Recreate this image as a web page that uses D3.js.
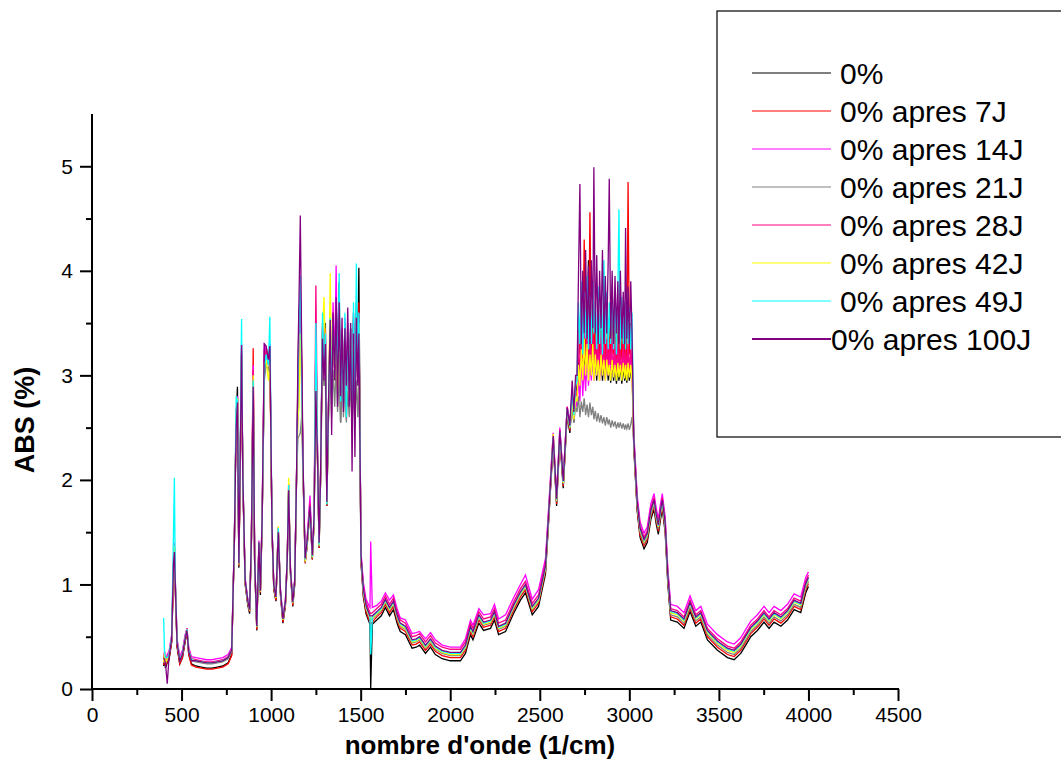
<!DOCTYPE html>
<html>
<head>
<meta charset="utf-8">
<script src="https://cdn.jsdelivr.net/npm/d3@7/dist/d3.min.js"></script>
<style>
  html, body { margin: 0; padding: 0; background: #ffffff; }
  svg { display: block; font-family: Arial, "Liberation Sans", sans-serif; }
</style>
</head>
<body>
<svg id="chart" width="1061" height="784"></svg>
<script>
// Wavenumber grid (1/cm) shared by every spectrum
const wavenumber = [
  400, 405, 410, 420, 430, 445, 455, 460, 465, 475, 490, 505, 520, 530, 540, 555,
  580, 610, 640, 670, 700, 730, 760, 780,
  795, 805, 812, 820, 828, 835, 842, 855, 870, 880, 890, 900, 908, 920, 932, 940, 950, 962, 972, 985, 993, 1005, 1015, 1027, 1040, 1052, 1066, 1080, 1090, 1098, 1108, 1121, 1132, 1142,
  1150, 1156, 1163, 1170, 1178, 1190, 1200, 1217, 1230, 1240, 1250, 1260, 1268, 1276, 1287, 1295, 1303, 1311, 1320, 1330, 1338, 1346, 1355, 1363, 1371, 1380, 1388, 1396, 1404, 1412, 1420, 1428, 1436, 1444, 1452, 1460, 1468, 1476, 1484, 1490,
  1502, 1515, 1530, 1545, 1552, 1556, 1565, 1590, 1615, 1638, 1661, 1683, 1705, 1721, 1750, 1787, 1810, 1829, 1862, 1890, 1917, 1955, 2000, 2057, 2085, 2113, 2127, 2160, 2186, 2225, 2247, 2270, 2309, 2353, 2392, 2420, 2458, 2493, 2532,
  2550, 2575, 2594, 2612, 2631, 2653, 2668, 2681, 2690, 2700,
  2708, 2716, 2724, 2732, 2740, 2748, 2756, 2764, 2772, 2780, 2788, 2796, 2802, 2810, 2818, 2826, 2834, 2842, 2850, 2858, 2866, 2874, 2882, 2888, 2896, 2904, 2912, 2920, 2928, 2936, 2942, 2950, 2958, 2966, 2974, 2979, 2986, 2993, 3000, 3008, 3015,
  3025, 3044, 3060, 3082, 3100, 3120, 3138, 3150, 3162, 3174, 3184, 3200, 3215, 3231, 3268, 3305, 3339, 3371, 3399, 3436, 3492, 3548, 3585, 3622, 3650, 3678, 3715, 3752, 3780, 3808, 3846, 3883, 3920, 3957, 3985, 4000
];

// Absorbance of each sample (same order as the wavenumber grid)
const abs0 = [
  0.22, 0.30, 0.20, 0.25, 0.28, 0.45, 1.10, 1.30, 0.95, 0.40, 0.24, 0.30, 0.45, 0.55, 0.33, 0.24,
  0.22, 0.21, 0.20, 0.20, 0.21, 0.22, 0.25, 0.33,
  1.40, 2.60, 2.89, 1.16, 2.20, 3.20, 2.00, 1.00, 0.80, 0.72, 1.40, 3.00, 1.20, 0.56, 1.36, 0.90, 1.60, 3.00, 3.25, 3.10, 3.28, 1.50, 0.95, 0.84, 1.50, 0.90, 0.63, 0.80, 1.20, 1.90, 1.10, 0.79, 1.00, 2.00,
  2.80, 3.40, 3.70, 3.10, 2.10, 1.22, 1.35, 1.72, 1.24, 1.60, 3.30, 2.10, 1.35, 2.00, 3.40, 3.10, 3.50, 1.75, 2.60, 3.50, 2.90, 3.60, 3.00, 3.70, 3.20, 3.89, 2.55, 3.40, 2.90, 3.50, 2.80, 3.30, 2.75, 3.45, 2.85, 3.60, 2.60, 3.70, 3.20, 4.03,
  1.20, 0.88, 0.72, 0.65, 0.62, 0.00, 0.62, 0.66, 0.70, 0.78, 0.70, 0.76, 0.62, 0.55, 0.52, 0.39, 0.40, 0.42, 0.34, 0.40, 0.33, 0.29, 0.27, 0.27, 0.34, 0.52, 0.47, 0.63, 0.56, 0.58, 0.66, 0.52, 0.55, 0.72, 0.85, 0.92, 0.71, 0.79, 1.10,
  1.62, 2.35, 1.75, 2.40, 1.92, 2.62, 2.45, 2.80, 2.55, 2.90,
  2.85, 3.20, 2.95, 3.30, 3.00, 3.25, 2.95, 3.30, 4.10, 3.20, 3.00, 3.25, 2.98, 3.20, 2.95, 3.25, 3.00, 3.20, 2.95, 3.15, 2.97, 3.20, 2.95, 3.15, 2.93, 3.15, 2.95, 3.10, 2.92, 3.10, 2.95, 3.10, 2.92, 3.08, 2.95, 3.05, 2.93, 3.10, 2.95, 3.05, 3.10,
  2.30, 1.70, 1.45, 1.34, 1.40, 1.62, 1.72, 1.58, 1.48, 1.62, 1.72, 1.50, 1.00, 0.66, 0.64, 0.58, 0.74, 0.60, 0.64, 0.47, 0.37, 0.30, 0.28, 0.34, 0.42, 0.50, 0.56, 0.64, 0.58, 0.64, 0.60, 0.66, 0.76, 0.73, 0.92, 0.98
];
const abs7 = [
  0.23, 0.32, 0.22, 0.26, 0.29, 0.46, 1.15, 1.35, 0.98, 0.41, 0.24, 0.30, 0.46, 0.55, 0.33, 0.23,
  0.21, 0.20, 0.19, 0.19, 0.20, 0.21, 0.24, 0.32,
  1.42, 2.62, 2.80, 1.18, 2.22, 3.25, 2.02, 1.02, 0.82, 0.74, 1.42, 3.26, 1.22, 0.57, 1.38, 0.92, 1.62, 3.05, 3.28, 3.12, 3.25, 1.52, 0.96, 0.85, 1.52, 0.92, 0.64, 0.81, 1.22, 1.92, 1.12, 0.80, 1.02, 2.02,
  3.00, 3.60, 3.80, 3.20, 2.10, 1.20, 1.35, 1.72, 1.24, 1.60, 3.40, 2.10, 1.35, 2.00, 3.50, 3.00, 3.45, 1.75, 2.65, 3.40, 2.85, 3.50, 3.05, 3.60, 3.05, 3.70, 2.70, 3.35, 2.85, 3.45, 2.75, 3.35, 2.80, 3.40, 2.90, 3.50, 2.70, 3.60, 3.10, 3.70,
  1.22, 0.90, 0.74, 0.67, 0.64, 0.62, 0.64, 0.69, 0.73, 0.81, 0.73, 0.79, 0.65, 0.58, 0.55, 0.42, 0.43, 0.45, 0.37, 0.43, 0.36, 0.32, 0.30, 0.30, 0.37, 0.55, 0.50, 0.66, 0.59, 0.61, 0.69, 0.55, 0.58, 0.75, 0.88, 0.95, 0.74, 0.82, 1.13,
  1.64, 2.37, 1.77, 2.42, 1.94, 2.64, 2.47, 2.82, 2.57, 2.90,
  2.90, 3.50, 3.20, 3.70, 3.15, 4.30, 3.25, 3.60, 3.10, 4.56, 3.20, 3.65, 3.15, 3.55, 3.20, 3.70, 3.10, 3.60, 3.20, 3.55, 3.15, 3.75, 3.20, 3.55, 3.10, 3.60, 3.20, 3.50, 3.15, 3.60, 3.10, 3.55, 3.15, 3.50, 3.10, 3.55, 3.15, 4.85, 3.20, 3.50, 3.30,
  2.32, 1.72, 1.47, 1.37, 1.43, 1.65, 1.75, 1.61, 1.51, 1.65, 1.75, 1.53, 1.03, 0.69, 0.67, 0.61, 0.77, 0.63, 0.67, 0.50, 0.40, 0.33, 0.31, 0.37, 0.45, 0.53, 0.59, 0.67, 0.61, 0.67, 0.63, 0.69, 0.79, 0.76, 0.95, 1.01
];
const abs14 = [
  0.28, 0.36, 0.27, 0.33, 0.36, 0.52, 1.25, 1.40, 1.05, 0.48, 0.31, 0.37, 0.52, 0.58, 0.40, 0.31,
  0.30, 0.29, 0.28, 0.28, 0.29, 0.30, 0.33, 0.40,
  1.45, 2.65, 2.80, 1.22, 2.25, 3.30, 2.06, 1.06, 0.86, 0.78, 1.45, 3.10, 1.26, 0.62, 1.42, 0.96, 1.66, 3.31, 3.20, 3.15, 3.30, 1.56, 1.00, 0.90, 1.55, 0.96, 0.69, 0.86, 1.26, 1.96, 1.16, 0.84, 1.06, 2.06,
  2.85, 3.10, 3.55, 3.05, 2.15, 1.26, 1.42, 1.85, 1.30, 1.66, 3.40, 2.18, 1.42, 2.06, 3.45, 3.10, 3.35, 1.82, 2.70, 3.60, 3.00, 3.70, 3.10, 4.05, 2.95, 3.50, 2.85, 3.45, 2.75, 3.55, 2.85, 3.50, 2.90, 3.40, 2.80, 3.55, 2.75, 3.60, 3.05, 3.55,
  1.30, 1.02, 0.86, 0.80, 0.78, 1.41, 0.78, 0.80, 0.84, 0.92, 0.85, 0.90, 0.76, 0.68, 0.66, 0.53, 0.54, 0.55, 0.48, 0.54, 0.47, 0.42, 0.40, 0.40, 0.48, 0.66, 0.61, 0.77, 0.71, 0.72, 0.81, 0.67, 0.71, 0.87, 1.00, 1.09, 0.86, 0.95, 1.25,
  1.75, 2.45, 1.85, 2.50, 2.02, 2.70, 2.55, 2.85, 2.62, 2.75,
  2.70, 3.00, 2.75, 3.20, 2.80, 3.10, 2.85, 3.30, 2.90, 3.15, 2.95, 3.25, 2.95, 3.20, 3.00, 3.25, 2.95, 3.20, 3.00, 3.20, 2.95, 3.25, 3.00, 3.20, 2.98, 3.20, 3.00, 3.22, 2.98, 3.20, 3.00, 3.18, 2.98, 3.20, 3.00, 3.18, 2.98, 3.20, 3.00, 3.15, 3.00,
  2.45, 1.85, 1.60, 1.49, 1.55, 1.77, 1.87, 1.73, 1.63, 1.77, 1.87, 1.65, 1.15, 0.81, 0.79, 0.73, 0.89, 0.75, 0.79, 0.62, 0.52, 0.45, 0.43, 0.49, 0.57, 0.65, 0.71, 0.79, 0.73, 0.79, 0.75, 0.81, 0.91, 0.88, 1.07, 1.12
];
const abs21 = [
  0.25, 0.33, 0.24, 0.28, 0.31, 0.48, 1.18, 1.36, 1.00, 0.44, 0.27, 0.33, 0.48, 0.56, 0.36, 0.27,
  0.26, 0.25, 0.24, 0.24, 0.25, 0.26, 0.29, 0.36,
  1.42, 2.62, 2.75, 1.19, 2.22, 3.15, 2.03, 1.03, 0.83, 0.75, 1.43, 2.95, 1.23, 0.59, 1.39, 0.93, 1.63, 2.95, 3.10, 3.05, 3.15, 1.53, 0.98, 0.87, 1.53, 0.93, 0.66, 0.83, 1.23, 1.93, 1.13, 0.82, 1.03, 2.03,
  2.40, 2.42, 2.45, 2.60, 2.05, 1.21, 1.36, 1.72, 1.25, 1.60, 2.80, 2.10, 1.36, 2.00, 3.05, 2.90, 3.00, 1.76, 2.55, 3.00, 2.60, 3.05, 2.70, 3.10, 2.65, 3.00, 2.55, 2.95, 2.60, 2.90, 2.55, 2.85, 2.60, 2.95, 2.50, 2.90, 2.55, 2.95, 2.60, 3.00,
  1.24, 0.93, 0.77, 0.70, 0.67, 0.66, 0.67, 0.71, 0.75, 0.83, 0.75, 0.81, 0.67, 0.60, 0.57, 0.44, 0.45, 0.47, 0.39, 0.45, 0.38, 0.34, 0.32, 0.32, 0.39, 0.57, 0.52, 0.68, 0.61, 0.63, 0.71, 0.57, 0.60, 0.77, 0.90, 0.97, 0.76, 0.84, 1.15,
  1.66, 2.39, 1.79, 2.44, 1.96, 2.66, 2.49, 2.70, 2.55, 2.70,
  2.65, 2.80, 2.60, 2.75, 2.65, 2.78, 2.62, 2.72, 2.60, 2.74, 2.62, 2.70, 2.58, 2.66, 2.56, 2.64, 2.55, 2.62, 2.54, 2.60, 2.52, 2.60, 2.53, 2.58, 2.50, 2.57, 2.51, 2.56, 2.49, 2.55, 2.50, 2.55, 2.49, 2.54, 2.48, 2.53, 2.49, 2.54, 2.48, 2.53, 2.60,
  2.35, 1.75, 1.50, 1.39, 1.45, 1.67, 1.77, 1.63, 1.53, 1.67, 1.77, 1.55, 1.05, 0.71, 0.69, 0.63, 0.79, 0.65, 0.69, 0.52, 0.42, 0.35, 0.33, 0.39, 0.47, 0.55, 0.61, 0.69, 0.63, 0.69, 0.65, 0.71, 0.81, 0.78, 0.97, 1.03
];
const abs28 = [
  0.27, 0.35, 0.26, 0.31, 0.34, 0.50, 1.22, 1.38, 1.03, 0.46, 0.29, 0.35, 0.50, 0.58, 0.38, 0.29,
  0.28, 0.27, 0.26, 0.26, 0.27, 0.28, 0.31, 0.38,
  1.44, 2.64, 2.78, 1.20, 2.24, 3.20, 2.04, 1.04, 0.84, 0.76, 1.44, 3.05, 1.24, 0.60, 1.40, 0.94, 1.64, 3.25, 3.20, 3.10, 3.20, 1.54, 0.99, 0.88, 1.54, 0.94, 0.67, 0.84, 1.24, 1.96, 1.14, 0.83, 1.04, 2.04,
  2.90, 3.50, 3.75, 3.15, 2.12, 1.23, 1.39, 1.78, 1.28, 1.64, 3.86, 2.15, 1.40, 2.04, 3.45, 3.05, 3.40, 1.80, 2.68, 3.50, 2.95, 3.55, 3.05, 3.65, 3.00, 3.55, 2.80, 3.40, 2.80, 3.50, 2.80, 3.40, 2.85, 3.45, 2.85, 3.50, 2.75, 3.55, 3.05, 3.60,
  1.27, 0.98, 0.83, 0.76, 0.73, 0.72, 0.73, 0.77, 0.81, 0.89, 0.81, 0.87, 0.73, 0.66, 0.63, 0.50, 0.51, 0.53, 0.45, 0.51, 0.44, 0.40, 0.38, 0.38, 0.45, 0.63, 0.58, 0.74, 0.67, 0.69, 0.77, 0.63, 0.66, 0.83, 0.96, 1.03, 0.82, 0.90, 1.21,
  1.70, 2.43, 1.83, 2.48, 2.00, 2.70, 2.53, 2.78, 2.60, 2.85,
  2.80, 3.40, 2.95, 3.35, 3.05, 3.40, 3.10, 3.45, 3.05, 3.35, 3.10, 3.40, 3.00, 3.35, 3.10, 3.30, 3.05, 3.40, 3.10, 3.30, 3.00, 3.35, 3.05, 3.30, 3.10, 3.35, 3.05, 3.30, 3.00, 3.30, 3.05, 3.25, 3.00, 3.30, 3.05, 3.25, 3.00, 3.30, 3.05, 3.25, 3.10,
  2.41, 1.81, 1.56, 1.45, 1.51, 1.73, 1.83, 1.69, 1.59, 1.73, 1.83, 1.61, 1.11, 0.77, 0.75, 0.69, 0.85, 0.71, 0.75, 0.58, 0.48, 0.41, 0.39, 0.45, 0.53, 0.61, 0.67, 0.75, 0.69, 0.75, 0.71, 0.77, 0.87, 0.84, 1.03, 1.09
];
const abs42 = [
  0.26, 0.34, 0.25, 0.29, 0.32, 0.49, 1.20, 1.37, 1.01, 0.45, 0.28, 0.34, 0.49, 0.57, 0.37, 0.28,
  0.27, 0.26, 0.25, 0.25, 0.26, 0.27, 0.30, 0.37,
  1.43, 2.63, 2.78, 1.19, 2.23, 3.18, 2.03, 1.03, 0.83, 0.75, 1.43, 3.00, 1.23, 0.59, 1.39, 0.93, 1.63, 3.10, 3.15, 2.95, 3.12, 1.53, 0.98, 0.87, 1.56, 0.93, 0.66, 0.83, 1.23, 2.02, 1.13, 0.82, 1.03, 2.03,
  2.60, 2.70, 3.40, 2.90, 2.10, 1.22, 1.37, 1.73, 1.26, 1.62, 3.20, 2.12, 1.37, 2.02, 3.40, 3.75, 3.30, 1.77, 2.60, 3.98, 2.90, 3.30, 3.10, 3.40, 2.85, 3.30, 2.90, 3.20, 2.80, 3.40, 2.95, 3.25, 2.80, 3.35, 2.75, 3.30, 2.90, 3.55, 2.95, 3.50,
  1.25, 0.94, 0.78, 0.71, 0.68, 0.67, 0.68, 0.72, 0.76, 0.84, 0.76, 0.82, 0.68, 0.61, 0.58, 0.45, 0.46, 0.48, 0.40, 0.46, 0.39, 0.35, 0.33, 0.33, 0.40, 0.58, 0.53, 0.69, 0.62, 0.64, 0.72, 0.58, 0.61, 0.78, 0.91, 0.98, 0.77, 0.85, 1.16,
  1.67, 2.44, 1.80, 2.45, 1.97, 2.67, 2.50, 2.75, 2.58, 2.78,
  2.75, 3.10, 2.90, 3.25, 2.95, 3.35, 3.00, 3.30, 2.95, 3.20, 3.00, 3.30, 2.95, 3.20, 3.00, 3.15, 2.95, 3.20, 3.00, 3.15, 2.95, 3.15, 3.00, 3.10, 2.95, 3.15, 2.98, 3.10, 2.95, 3.12, 2.98, 3.10, 2.95, 3.12, 2.97, 3.10, 2.95, 3.12, 2.98, 3.10, 2.95,
  2.37, 1.77, 1.52, 1.41, 1.47, 1.69, 1.79, 1.65, 1.55, 1.69, 1.79, 1.57, 1.07, 0.73, 0.71, 0.65, 0.81, 0.67, 0.71, 0.54, 0.44, 0.37, 0.35, 0.41, 0.49, 0.57, 0.63, 0.71, 0.65, 0.71, 0.67, 0.73, 0.83, 0.80, 0.99, 1.05
];
const abs49 = [
  0.68, 0.35, 0.30, 0.30, 0.33, 0.50, 1.50, 2.02, 1.05, 0.45, 0.28, 0.34, 0.49, 0.57, 0.37, 0.28,
  0.27, 0.26, 0.25, 0.25, 0.26, 0.27, 0.30, 0.37,
  1.44, 2.80, 2.75, 1.20, 2.40, 3.54, 2.05, 1.04, 0.84, 0.76, 1.44, 2.95, 1.24, 0.60, 1.40, 0.94, 1.64, 3.05, 3.20, 3.10, 3.56, 1.54, 0.99, 0.88, 1.54, 0.94, 0.67, 0.84, 1.24, 1.95, 1.14, 0.83, 1.04, 2.04,
  2.95, 3.50, 3.95, 3.00, 2.15, 1.24, 1.38, 1.74, 1.27, 1.63, 3.50, 2.12, 1.38, 2.02, 3.60, 3.05, 3.40, 1.77, 2.65, 3.55, 2.80, 3.50, 3.10, 3.55, 3.00, 3.98, 2.75, 3.30, 2.70, 3.60, 2.60, 3.40, 2.85, 3.50, 2.60, 3.70, 2.55, 4.07, 3.00, 3.60,
  1.26, 0.95, 0.79, 0.72, 0.69, 0.33, 0.69, 0.73, 0.77, 0.85, 0.77, 0.83, 0.69, 0.62, 0.59, 0.46, 0.47, 0.49, 0.41, 0.47, 0.40, 0.36, 0.34, 0.34, 0.41, 0.59, 0.54, 0.70, 0.63, 0.65, 0.73, 0.59, 0.62, 0.79, 0.92, 0.99, 0.78, 0.86, 1.17,
  1.68, 2.41, 1.81, 2.46, 1.98, 2.68, 2.51, 2.85, 2.62, 2.90,
  2.95, 3.70, 3.30, 3.90, 3.20, 3.80, 3.35, 3.95, 3.25, 3.75, 3.30, 3.90, 3.40, 3.70, 3.25, 3.85, 3.30, 3.75, 3.20, 4.10, 3.30, 3.80, 3.25, 3.70, 3.30, 3.85, 3.25, 3.75, 3.20, 3.80, 4.59, 3.25, 3.75, 3.30, 3.70, 3.25, 3.80, 3.30, 3.65, 3.25, 3.60,
  2.38, 1.78, 1.53, 1.42, 1.48, 1.70, 1.80, 1.66, 1.56, 1.70, 1.80, 1.58, 1.08, 0.74, 0.72, 0.66, 0.82, 0.68, 0.72, 0.55, 0.45, 0.38, 0.36, 0.42, 0.50, 0.58, 0.64, 0.72, 0.66, 0.72, 0.68, 0.74, 0.84, 0.81, 1.00, 1.06
];
const abs100 = [
  0.30, 0.28, 0.25, 0.05, 0.30, 0.48, 1.20, 1.31, 1.00, 0.44, 0.27, 0.33, 0.48, 0.56, 0.36, 0.27,
  0.27, 0.26, 0.25, 0.25, 0.26, 0.27, 0.30, 0.37,
  1.44, 2.50, 2.74, 1.20, 2.24, 3.29, 2.04, 1.04, 0.84, 0.76, 1.44, 2.89, 1.24, 0.60, 1.40, 0.94, 1.64, 3.30, 3.28, 3.15, 3.28, 1.54, 0.99, 0.88, 1.50, 0.94, 0.67, 0.84, 1.24, 1.90, 1.14, 0.83, 1.04, 2.04,
  3.20, 3.75, 4.53, 3.40, 2.20, 1.25, 1.40, 1.75, 1.28, 1.65, 2.85, 2.15, 1.40, 2.05, 3.35, 2.95, 3.30, 1.79, 2.70, 3.53, 2.43, 3.60, 2.95, 3.75, 2.70, 3.70, 2.80, 3.55, 2.65, 3.45, 2.90, 3.65, 2.70, 3.50, 2.08, 3.40, 2.22, 3.55, 2.90, 3.40,
  1.28, 0.96, 0.80, 0.73, 0.70, 0.70, 0.70, 0.74, 0.78, 0.86, 0.78, 0.84, 0.70, 0.63, 0.60, 0.47, 0.48, 0.50, 0.42, 0.48, 0.41, 0.37, 0.35, 0.35, 0.42, 0.60, 0.55, 0.71, 0.64, 0.66, 0.74, 0.60, 0.63, 0.80, 0.93, 1.00, 0.79, 0.87, 1.18,
  1.69, 2.42, 1.82, 2.47, 1.99, 2.69, 2.52, 2.95, 2.65, 3.00,
  3.00, 3.95, 4.83, 3.30, 4.00, 3.40, 4.20, 3.35, 4.05, 3.30, 4.10, 3.45, 4.99, 3.40, 4.15, 3.30, 4.00, 3.45, 4.20, 3.30, 3.95, 3.40, 4.10, 4.88, 3.35, 4.00, 3.30, 3.95, 3.40, 3.90, 3.30, 4.00, 3.35, 3.80, 3.30, 4.41, 3.35, 3.85, 3.30, 3.90, 3.40,
  2.39, 1.79, 1.54, 1.43, 1.49, 1.71, 1.81, 1.67, 1.57, 1.71, 1.81, 1.59, 1.09, 0.75, 0.73, 0.67, 0.83, 0.69, 0.73, 0.56, 0.46, 0.39, 0.37, 0.43, 0.51, 0.59, 0.65, 0.73, 0.67, 0.73, 0.69, 0.75, 0.85, 0.82, 1.01, 1.07
];

const seriesNames = ["0%", "0% apres 7J", "0% apres 14J", "0% apres 21J", "0% apres 28J", "0% apres 42J", "0% apres 49J", "0% apres 100J"];
const seriesColors = ["#000000", "#ff0000", "#ff00ff", "#808080", "#ff0080", "#ffff00", "#00ffff", "#800080"];
const seriesValues = [abs0, abs7, abs14, abs21, abs28, abs42, abs49, abs100];

const xTickValues = [0, 500, 1000, 1500, 2000, 2500, 3000, 3500, 4000, 4500];
const yTickValues = [0, 1, 2, 3, 4, 5];

const svg = d3.select("#chart");

const x = d3.scaleLinear().domain([0, 4500]).range([92, 898]);
const y = d3.scaleLinear().domain([0, 5.5]).range([689, 114]);

// spectra, drawn in legend order so the last sample ends up on top
const line = d3.line()
  .x(d => x(d[0]))
  .y(d => y(d[1]));

const plot = svg.append("g");
seriesValues.forEach((vals, i) => {
  const pts = wavenumber.map((w, k) => [w, vals[k]]);
  plot.append("path")
    .datum(pts)
    .attr("fill", "none")
    .attr("stroke", seriesColors[i])
    .attr("stroke-width", 1.3)
    .attr("stroke-linejoin", "miter")
    .attr("d", line);
});

// axes
const xMinor = d3.range(250, 4500, 500);
const yMinor = d3.range(0.5, 5.5, 1);

const xAxis = svg.append("g").attr("transform", "translate(0,689)");
xAxis.append("g")
  .call(d3.axisBottom(x).tickValues(xMinor).tickSize(6).tickFormat(""))
  .call(g => g.select(".domain").remove());
xAxis.append("g")
  .call(d3.axisBottom(x).tickValues(xTickValues).tickSize(12).tickPadding(6).tickFormat(d3.format("d")))
  .call(g => g.select(".domain").remove());
xAxis.append("line").attr("x1", x(0) - 1).attr("x2", x(4500) + 1).attr("y1", 0).attr("y2", 0);

const yAxis = svg.append("g").attr("transform", "translate(92,0)");
yAxis.append("g")
  .call(d3.axisLeft(y).tickValues(yMinor).tickSize(6).tickFormat(""))
  .call(g => g.select(".domain").remove());
yAxis.append("g")
  .call(d3.axisLeft(y).tickValues(yTickValues).tickSize(12).tickPadding(7).tickFormat(d3.format("d")))
  .call(g => g.select(".domain").remove());
yAxis.append("line").attr("x1", 0).attr("x2", 0).attr("y1", y(5.5)).attr("y2", y(0) + 1);

svg.selectAll(".tick line").attr("stroke", "#000").attr("stroke-width", 2);
svg.selectAll(".tick text").attr("fill", "#000").attr("font-size", 21).attr("font-family", "Arial, 'Liberation Sans', sans-serif");
xAxis.selectAll("line:not(.tick line)").attr("stroke", "#000").attr("stroke-width", 2);
yAxis.selectAll("line:not(.tick line)").attr("stroke", "#000").attr("stroke-width", 2);

// axis titles
svg.append("text")
  .attr("x", 480).attr("y", 754)
  .attr("text-anchor", "middle")
  .attr("font-size", 26).attr("font-weight", "bold")
  .text("nombre d'onde (1/cm)");

svg.append("text")
  .attr("transform", "translate(34,420) rotate(-90)")
  .attr("text-anchor", "middle")
  .attr("font-size", 27).attr("font-weight", "bold")
  .text("ABS (%)");

// legend
const legend = svg.append("g");
legend.append("rect")
  .attr("x", 717).attr("y", 11).attr("width", 400).attr("height", 426)
  .attr("fill", "none").attr("stroke", "#000").attr("stroke-width", 1.2);

seriesNames.forEach((name, i) => {
  const ly = 73 + i * 38;
  legend.append("line")
    .attr("x1", 752).attr("x2", 831).attr("y1", ly).attr("y2", ly)
    .attr("stroke", seriesColors[i]).attr("stroke-width", i === 7 ? 2 : 1.2);
  legend.append("text")
    .attr("x", i === 7 ? 831 : 840).attr("y", ly + 11)
    .attr("font-size", 30)
    .attr("fill", "#000")
    .text(name);
});
</script>
</body>
</html>
